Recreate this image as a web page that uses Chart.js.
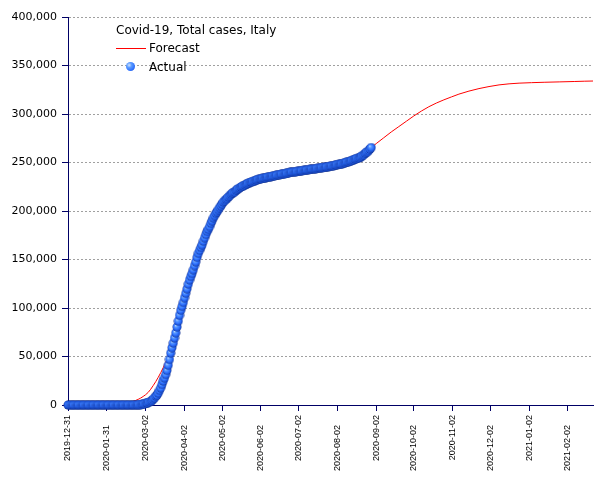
<!DOCTYPE html>
<html>
<head>
<meta charset="utf-8">
<title>Covid-19, Total cases, Italy</title>
<script src="https://cdn.jsdelivr.net/npm/chart.js@4.4.0/dist/chart.umd.min.js"></script>
<style>
  html, body { margin: 0; padding: 0; background: #fff; }
  #wrap { position: relative; width: 605px; height: 480px; }
  .lg { position: absolute; font: 12px "DejaVu Sans", sans-serif; line-height: 14px; color: #000; white-space: nowrap; }
  #lg-line { position: absolute; left: 116px; top: 48px; width: 30px; height: 1px; background: #ff0000; }
  #lg-ball { position: absolute; left: 126px; top: 62px; width: 9px; height: 9px; border-radius: 50%;
    background: radial-gradient(circle at 35% 35%, #d0e4ff 0%, #5b9bff 30%, #2f72ff 65%, #1a4fd0 90%, #102f90 100%); }
</style>
</head>
<body>
<div id="wrap">
  <canvas id="chart"></canvas>
  <div class="lg" style="left:116px; top:23px;">Covid-19, Total cases, Italy</div>
  <div id="lg-line"></div>
  <div class="lg" style="left:149px; top:41px;">Forecast</div>
  <div id="lg-ball"></div>
  <div class="lg" style="left:149px; top:60px;">Actual</div>
</div>
<script>
// Day 0 of the x axis is 2019-12-31; every value below is keyed by day offset.

// x-axis ticks (day offset -> printed date)
const tickDays = [0, 31, 62, 93, 123, 154, 184, 215, 246, 276, 307, 337, 368, 399];
const tickLabels = [
  "2019-12-31", "2020-01-31", "2020-03-02", "2020-04-02", "2020-05-02",
  "2020-06-02", "2020-07-02", "2020-08-02", "2020-09-02", "2020-10-02",
  "2020-11-02", "2020-12-02", "2021-01-02", "2021-02-02",
];
const xMaxDay = 419;

// Actual total cases, one value per day starting 2019-12-31
const actualCases = [
  // 2019-12-31 .. 2020-01-30
  0, 0, 0, 0, 0, 0, 0, 0, 0, 0, 0, 0, 0, 0, 0, 0, 0, 0, 0, 0, 0, 0, 0, 0, 0, 0, 0, 0, 0, 0, 0,
  // 01-31
  2,
  // Feb
  2, 2, 2, 2, 2, 2, 3, 3, 3, 3, 3, 3, 3, 3, 3, 3, 3, 3, 3, 3, 3,
  20, 79, 150, 229, 322, 400, 650, 888,
  // Mar
  1128, 1694, 2036, 2502, 3089, 3858, 4636, 5883, 7375, 9172, 10149, 12462, 15113, 17660, 21157,
  24747, 27980, 31506, 35713, 41035, 47021, 53578, 59138, 63927, 69176, 74386, 80539, 86498,
  92472, 97689, 101739,
  // Apr
  105792, 110574, 115242, 119827, 124632, 128948, 132547, 135586, 139422, 143626, 147577,
  152271, 156363, 159516, 162488, 165155, 168941, 172434, 175925, 178972, 181228, 183957,
  187327, 189973, 192994, 195351, 197675, 199414, 201505, 203591,
  // May
  205463, 207428, 209328, 210717, 211938, 213013, 214457, 215858, 217185, 218268, 219070,
  219814, 221216, 222104, 223096, 223885, 224760, 225435, 225886, 226699, 227364, 228006,
  228658, 229327, 229858, 230158, 230555, 231139, 231732, 232248, 232664,
  // Jun
  233019, 233197, 233515, 233836, 234013, 234531, 234801, 234998, 235278, 235561, 235763,
  236142, 236305, 236651, 236989, 237290, 237500, 237828, 238011, 238275, 238499, 238720,
  238833, 239410, 239706, 239961, 240136, 240310, 240436, 240578,
  // Jul
  240760, 240961, 241184, 241419, 241611, 241819, 241956, 242149, 242363, 242639, 242827,
  243061, 243230, 243344, 243506, 243736, 243967, 244216, 244434, 244624, 244752, 244970,
  245032, 245338, 245590, 245864, 246118, 246286, 246488, 246776, 247158,
  // Aug 1 .. 29
  247537, 247832, 248070, 248229, 248419, 248803, 249204, 249756, 250103, 250566, 250825,
  251237, 251713, 252235, 252809, 253438, 253915, 254235, 254636, 255278, 256118, 257065,
  258136, 259345, 260298, 261174, 262540, 263949, 265409,
];

// Forecast curve at these day offsets
const forecastDays = [
  30, 40, 46, 52, 56, 60, 64, 68, 72, 76, 80, 84, 88, 92, 96, 100, 104, 108, 112, 116,
  120, 124, 128, 132, 136, 140, 146, 152, 160, 170, 180, 190, 200, 210, 220, 228, 234,
  238, 242, 246, 252, 258, 264, 270, 276, 282, 288, 294, 300, 306, 312, 320, 328, 336,
  344, 352, 360, 370, 380, 392, 404, 412, 419,
];
const forecastCases = [
  100, 800, 1800, 3800, 5800, 8800, 13000, 20000, 28500, 38500, 50000, 64000, 80000, 98000,
  115000, 132000, 148000, 163000, 176000, 189000, 200000, 209000, 216000, 221000, 225000,
  228000, 231500, 234000, 236500, 238500, 240500, 242000, 244000, 246500, 251000, 255500,
  259500, 262500, 265500, 269500, 275500, 281500, 287000, 292500, 298000, 303000, 307500,
  311300, 314600, 317600, 320500, 323600, 326200, 328300, 330000, 331100, 331800, 332300,
  332700, 333100, 333500, 333800, 334000,
];

const AXIS = "#000066";

// Shaded blue ball used as the marker.
function makeBall(r) {
  const size = Math.ceil(r * 2) + 1;
  const c = document.createElement("canvas");
  c.width = c.height = size;
  const g = c.getContext("2d");
  const cx = size / 2, cy = size / 2;
  const grad = g.createRadialGradient(cx - r * 0.35, cy - r * 0.35, 0, cx, cy, r);
  grad.addColorStop(0, "#d0e4ff");
  grad.addColorStop(0.3, "#5b9bff");
  grad.addColorStop(0.65, "#2f72ff");
  grad.addColorStop(0.9, "#1a4fd0");
  grad.addColorStop(1, "#102f90");
  g.fillStyle = grad;
  g.beginPath();
  g.arc(cx, cy, r, 0, Math.PI * 2);
  g.fill();
  return c;
}

const ball = makeBall(4.5);

const actualPts = actualCases.map((v, i) => ({ x: i, y: v }));
const forecastPts = forecastDays.map((d, i) => ({ x: d, y: forecastCases[i] }));

new Chart(document.getElementById("chart"), {
  type: "line",
  data: {
    datasets: [
      {
        label: "Actual",
        data: actualPts,
        showLine: false,
        pointStyle: ball,
        pointRadius: 4.5,
        order: 0,
        clip: false,
      },
      {
        label: "Forecast",
        data: forecastPts,
        borderColor: "#ff0000",
        borderWidth: 1,
        pointRadius: 0,
        cubicInterpolationMode: "monotone",
        fill: false,
        order: 1,
      },
    ],
  },
  options: {
    responsive: true,
    maintainAspectRatio: false,
    animation: false,
    events: [],
    layout: { padding: { top: 17, right: 12, left: 0, bottom: 0 } },
    plugins: { legend: { display: false }, tooltip: { enabled: false } },
    scales: {
      x: {
        type: "linear",
        min: 0,
        max: xMaxDay,
        afterBuildTicks: s => { s.ticks = tickDays.map(v => ({ value: v })); },
        afterFit: s => { s.height = 75; },
        ticks: {
          autoSkip: false,
          minRotation: 90,
          maxRotation: 90,
          padding: 4,
          color: "#000",
          font: { family: "'Liberation Sans', Arial, sans-serif", size: 9 },
          // every second label sits a little further from the axis
          callback: (v) => {
            const k = tickDays.indexOf(v);
            const t = k >= 0 ? tickLabels[k] : "";
            return k % 2 === 1 ? t + "\u2007\u2007" : t;
          },
        },
        grid: { drawOnChartArea: false, drawTicks: true, tickLength: 6, tickColor: AXIS },
        border: { color: AXIS, width: 1 },
      },
      y: {
        min: 0,
        max: 400000,
        afterFit: s => { s.width = 68; },
        ticks: {
          stepSize: 50000,
          padding: 5,
          color: "#000",
          font: { family: "'DejaVu Sans', sans-serif", size: 11 },
          callback: v => v.toLocaleString("en-US"),
        },
        grid: { color: "#a0a0a0", tickLength: 6, tickColor: AXIS },
        border: { color: AXIS, width: 1, dash: [2, 2] },
      },
    },
  },
});
</script>
</body>
</html>
